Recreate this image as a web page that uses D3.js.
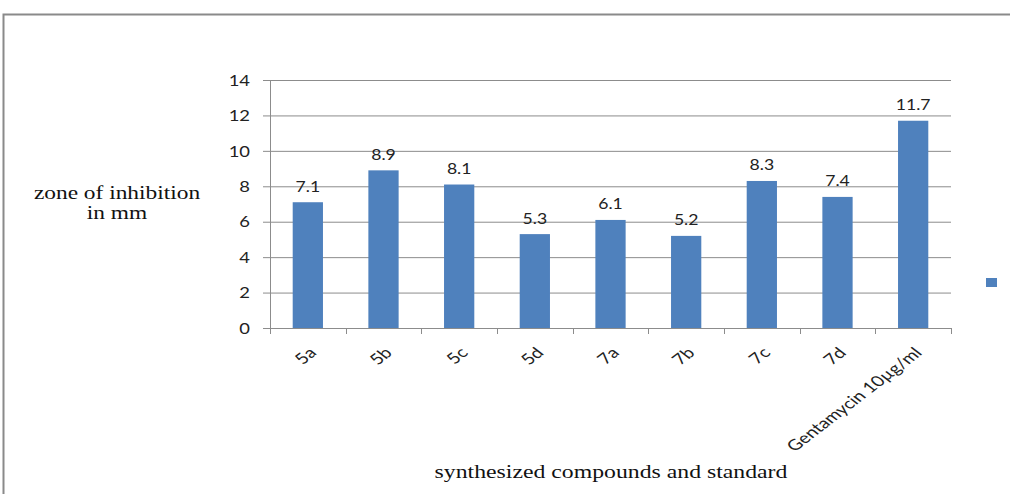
<!DOCTYPE html>
<html>
<head>
<meta charset="utf-8">
<script src="https://cdn.jsdelivr.net/npm/d3@7"></script>
<style>
  html, body { margin: 0; padding: 0; background: #fff; }
  svg { display: block; }
</style>
</head>
<body>
<svg id="chart" width="1010" height="494"></svg>
<script>
// Zone of inhibition for synthesized compounds vs. the Gentamycin standard
const categories = ["5a", "5b", "5c", "5d", "7a", "7b", "7c", "7d", "Gentamycin 10\u00b5g/ml"];
const values = [7.1, 8.9, 8.1, 5.3, 6.1, 5.2, 8.3, 7.4, 11.7];
const yTicks = [0, 2, 4, 6, 8, 10, 12, 14];

const svg = d3.select("#chart");
const W = 1010, H = 494;
const plot = { left: 270, right: 951, top: 80, bottom: 328 };
const barColor = "#4F81BD";
const gridColor = "#8c8c8c";
const sansFont = "Lato, 'Open Sans', sans-serif";
const serifFont = "'Liberation Serif', 'Times New Roman', serif";

// outer chart frame (extends past the right and bottom edges)
svg.append("path")
  .attr("d", `M3.5,${H + 2} V14.5 H${W + 2}`)
  .attr("fill", "none")
  .attr("stroke", "#8a8a8a")
  .attr("stroke-width", 2);

const x = d3.scaleBand()
  .domain(categories)
  .range([plot.left, plot.right])
  .paddingInner(0.6)
  .paddingOuter(0.3);

const y = d3.scaleLinear()
  .domain([0, 14])
  .range([plot.bottom, plot.top]);

// horizontal gridlines with small left ticks
const yAxis = d3.axisLeft(y)
  .tickValues(yTicks)
  .tickSize(-(plot.right - plot.left))
  .tickFormat("");

const gy = svg.append("g")
  .attr("transform", `translate(${plot.left},0)`)
  .call(yAxis);
gy.select(".domain").remove();
gy.selectAll(".tick line")
  .attr("x1", -7)
  .attr("stroke", gridColor)
  .attr("stroke-width", 1);

// y tick labels
svg.append("g").selectAll("text")
  .data(yTicks)
  .join("text")
  .attr("transform", (d) => `translate(${plot.left - 20},${y(d)}) scale(1.15,1)`)
  .attr("text-anchor", "end")
  .attr("dy", "0.36em")
  .attr("font-family", sansFont)
  .attr("font-size", 16)
  .attr("fill", "#222")
  .text((d) => d);

// vertical axis line
svg.append("line")
  .attr("x1", plot.left + 0.5).attr("x2", plot.left + 0.5)
  .attr("y1", plot.top).attr("y2", plot.bottom)
  .attr("stroke", gridColor);

// bars
svg.append("g").selectAll("rect")
  .data(categories)
  .join("rect")
  .attr("x", (d) => x(d))
  .attr("width", x.bandwidth())
  .attr("y", (d, i) => y(values[i]))
  .attr("height", (d, i) => y(0) - y(values[i]))
  .attr("fill", barColor);

// value labels
svg.append("g").selectAll("text")
  .data(categories)
  .join("text")
  .attr("transform", (d, i) => `translate(${x(d) + x.bandwidth() / 2},${y(values[i]) - 10.5}) scale(1.1,1)`)
  .attr("text-anchor", "middle")
  .attr("font-family", sansFont)
  .attr("font-size", 16)
  .attr("fill", "#222")
  .text((d, i) => values[i].toFixed(1));

// category axis with boundary ticks
const boundaries = d3.range(categories.length + 1).map((i) => plot.left + i * (plot.right - plot.left) / categories.length);
svg.append("line")
  .attr("x1", plot.left).attr("x2", plot.right)
  .attr("y1", plot.bottom + 0.5).attr("y2", plot.bottom + 0.5)
  .attr("stroke", gridColor);
svg.append("g").selectAll("line")
  .data(boundaries)
  .join("line")
  .attr("x1", (d) => Math.round(d) + 0.5).attr("x2", (d) => Math.round(d) + 0.5)
  .attr("y1", plot.bottom).attr("y2", plot.bottom + 6)
  .attr("stroke", gridColor);

// rotated category labels
svg.append("g").selectAll("text")
  .data(categories)
  .join("text")
  .attr("transform", (d) => `translate(${x(d) + x.bandwidth() / 2 + 5},${plot.bottom + 22}) scale(1.3,1) rotate(-45)`)
  .attr("text-anchor", "end")
  .attr("dy", "0.35em")
  .attr("font-family", sansFont)
  .attr("font-size", 15)
  .attr("fill", "#222")
  .text((d) => d);

// axis titles
const yTitle = svg.append("text")
  .attr("transform", "translate(117,0) scale(1.3,1)")
  .attr("text-anchor", "middle")
  .attr("font-family", serifFont)
  .attr("font-size", 18)
  .attr("fill", "#111");
yTitle.append("tspan").attr("x", 0).attr("y", 199).text("zone of inhibition");
yTitle.append("tspan").attr("x", 0).attr("y", 219).text("in mm");

svg.append("text")
  .attr("transform", "translate(611,478) scale(1.32,1)")
  .attr("text-anchor", "middle")
  .attr("font-family", serifFont)
  .attr("font-size", 18)
  .attr("fill", "#111")
  .text("synthesized compounds and standard");

// legend marker (series has no name)
svg.append("rect")
  .attr("x", 986).attr("y", 278)
  .attr("width", 11).attr("height", 9)
  .attr("fill", barColor);
</script>
</body>
</html>
